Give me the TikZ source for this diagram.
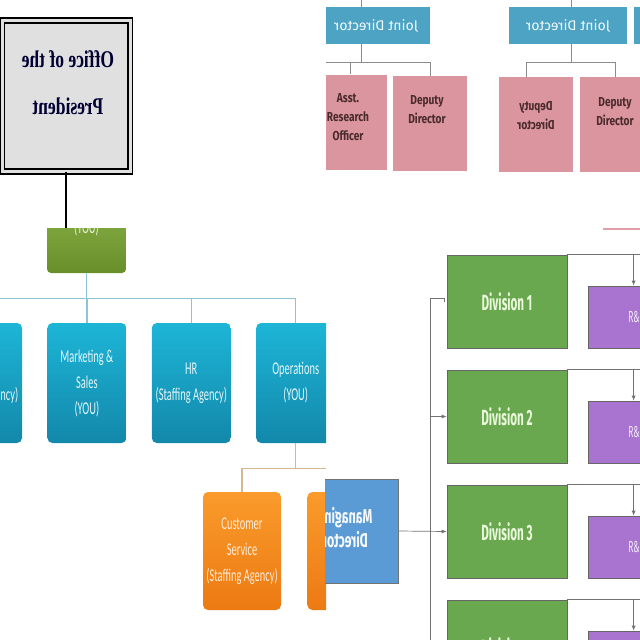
\documentclass[tikz,border=0pt]{standalone}
\usepackage{fontspec}
\usetikzlibrary{arrows.meta,positioning}

\newfontfamily\presfont[FakeStretch=0.73]{Liberation Serif}
\newfontfamily\jdfont{Fira Sans}
\newfontfamily\pinkfont[FakeStretch=0.78]{Fira Sans}
\newfontfamily\condfont[FakeStretch=0.58]{Carlito}
\newfontfamily\divfont[FakeStretch=0.53]{Fira Sans}
\newfontfamily\mdfont[FakeStretch=0.62]{Fira Sans}

\definecolor{jdblue}{HTML}{4DA3C4}
\definecolor{pinkfill}{HTML}{DA959E}
\definecolor{pinktxt}{HTML}{4A2A2C}
\definecolor{yougreen}{HTML}{7BA832}
\definecolor{tealtop}{HTML}{1DB5D7}
\definecolor{tealbot}{HTML}{1388AA}
\definecolor{orgtop}{HTML}{FA9B2C}
\definecolor{orgbot}{HTML}{EC7A12}
\definecolor{tealline}{HTML}{8EC3D3}
\definecolor{tanline}{HTML}{D6B88E}
\definecolor{mdblue}{HTML}{5B9BD5}
\definecolor{divgreen}{HTML}{6AA84F}
\definecolor{divtext}{HTML}{EAF8DC}
\definecolor{rdpurple}{HTML}{A874D0}
\definecolor{pinkline}{HTML}{E29FA9}

\newcommand{\mirrortext}[1]{\scalebox{-1}[1]{#1}}

\tikzset{
  presbox/.style={draw=black,line width=1.8pt,double=black!12,double distance=3pt,
    fill=black!12,minimum width=128pt,minimum height=151pt,inner sep=0pt},
  prestext/.style={font=\presfont\bfseries\fontsize{24}{47}\selectfont,text=black!80!blue},
  youbox/.style={rounded corners=4pt,top color=yougreen!90!white,bottom color=yougreen!85!black,
    minimum width=79pt,minimum height=74pt,inner sep=0pt},
  deptbox/.style={rounded corners=5pt,top color=tealtop,bottom color=tealbot,
    minimum width=79pt,minimum height=120pt,inner sep=0pt,align=center,
    text=white!88!tealtop,font=\condfont\fontsize{18}{26}\selectfont},
  ordbox/.style={deptbox,top color=orgtop,bottom color=orgbot,minimum width=78pt,
    minimum height=118pt,text=orange!15!white},
  jdbox/.style={fill=jdblue,minimum height=37pt,inner sep=0pt,text=white!92!jdblue,
    font=\jdfont\fontsize{14}{16}\selectfont},
  pinkbox/.style={fill=pinkfill,minimum width=74pt,minimum height=95pt,inner sep=0pt},
  pinktext/.style={align=center,text=pinktxt,inner sep=0pt,
    font=\pinkfont\bfseries\fontsize{13}{19}\selectfont},
  mdbox/.style={fill=mdblue,draw=black!55,line width=0.6pt,minimum width=106pt,
    minimum height=104pt,inner sep=0pt,align=center,text=white!94!mdblue,
    font=\mdfont\bfseries\fontsize{20}{24}\selectfont},
  divbox/.style={fill=divgreen,draw=black!60,line width=0.6pt,minimum width=120pt,
    minimum height=93pt,inner sep=0pt,text=divtext,
    font=\divfont\bfseries\fontsize{22}{24}\selectfont},
  rdbox/.style={fill=rdpurple,draw=black!60,line width=0.6pt,minimum width=96pt,
    minimum height=62pt,inner sep=0pt,text=white!85!rdpurple,
    font=\divfont\fontsize{16}{18}\selectfont},
  greyline/.style={draw=black!45,line width=0.8pt},
  thinline/.style={draw=black!55,line width=0.7pt},
  arrowline/.style={thinline,-{Latex[length=5pt,width=4pt]}}
}

\begin{document}
\begin{tikzpicture}[x=1pt,y=-1pt]
\useasboundingbox (0,0) rectangle (640,640);

% office of the president (top left)
\begin{scope}
  \clip (0,0) rectangle (326,228);
  \node[presbox] (pres) at (66,96) {};
  \node[prestext] (prestxt) at (68,82) {\mirrortext{\begin{tabular}{@{}c@{}}Office of the\\President\end{tabular}}};
  \coordinate (presend) at (66,228);
  \draw[line width=1.2pt] (pres.south) -- (presend);
\end{scope}

% departments (bottom left)
\begin{scope}
  \clip (0,228) rectangle (326,640);
  \node[youbox] (you) at (86.5,236) {};
  \node[text=white!85!yougreen,font=\condfont\fontsize{18}{20}\selectfont] (youlbl) at (86.5,228) {(YOU)};
  \node[deptbox] (sup) at (-17.5,383) {Support\\(Staffing Agency)};
  \node[deptbox,right=25pt of sup] (mkt) {Marketing \&\\Sales\\(YOU)};
  \node[deptbox,right=25pt of mkt] (hr) {HR\\(Staffing Agency)};
  \node[deptbox,right=25pt of hr] (ops) {Operations\\(YOU)};
  \draw[tealline,line width=1.2pt] (you.south) -- ++(0,25) coordinate (bus);
  \draw[tealline,line width=1.2pt] (sup.north |- bus) -- (ops.north |- bus);
  \foreach \d in {mkt,hr,ops}
    \draw[tealline,line width=1.2pt] (\d.north) -- (\d.north |- bus);
  \node[ordbox] (cs) at (242,551) {Customer\\Service\\(Staffing Agency)};
  \node[ordbox,right=26pt of cs] (ord) {};
  \draw[tanline,line width=1.2pt] (ops.south) -- ++(0,25) coordinate (obus);
  \draw[tanline,line width=1.2pt] (cs.north) |- (ord.north |- obus) -- (ord.north);
\end{scope}

% joint directors (top right)
\begin{scope}
  \clip (326,0) rectangle (640,228);
  \node[jdbox,minimum width=108pt] (jd1) at (376,25.5) {\mirrortext{Joint Director}};
  \node[jdbox,minimum width=118pt] (jd2) at (568,25.5) {\mirrortext{Joint Director}};
  \node[jdbox,minimum width=112pt] (jd3) at (690,25.5) {};
  \draw[greyline] ([xshift=-15pt]jd1.north) -- ++(0,-8);
  \draw[greyline] ([xshift=3pt]jd2.north) -- ++(0,-8);
  \node[pinkbox] (aro) at (350,122) {};
  \node[pinkbox] (dd1) at (430,123.5) {};
  \node[pinkbox] (dd2) at (536,124.5) {};
  \node[pinkbox] (dd3) at (617,124.5) {};
  \node[pinktext,anchor=north] (arotxt) at ([yshift=-19pt,xshift=-2pt]aro.north) {Asst.\\Research\\Officer};
  \node[pinktext,anchor=north] (dd1txt) at ([yshift=-19pt,xshift=-3pt]dd1.north) {Deputy\\Director};
  \node[pinktext,anchor=north] (dd2txt) at ([yshift=-20pt]dd2.north) {\mirrortext{\begin{tabular}{@{}c@{}}Deputy\\Director\end{tabular}}};
  \node[pinktext,anchor=north] (dd3txt) at ([yshift=-20pt,xshift=-2pt]dd3.north) {Deputy\\Director};
  \draw[greyline] ([xshift=-15pt]jd1.south) -- ++(0,18) coordinate (b1);
  \draw[greyline] (aro.north) |- (dd1.north |- b1) -- (dd1.north);
  \draw[greyline] (aro.north |- b1) -- ++(-30,0);
  \draw[greyline] ([xshift=3pt]jd2.south) -- ++(0,18) coordinate (b2);
  \draw[greyline] ([xshift=-10pt]dd2.north) |- ([xshift=-2pt]dd3.north |- b2) -- ([xshift=-2pt]dd3.north);
\end{scope}

% divisions (bottom right)
\begin{scope}
  \clip (325,228) rectangle (640,640);
  \draw[pinkline,line width=1.5pt] (603,229) -- (640,229);
  \node[mdbox] (md) at (345,531) {\mirrortext{\begin{tabular}{@{}c@{}}Managing\\Director\end{tabular}}};
  \foreach \i/\y in {1/301.5,2/416.5,3/531.5,4/646.5} {
    \node[divbox] (div\i) at (507,\y) {Division \i};
    \node[rdbox,anchor=south west] (rd\i) at ([xshift=21pt]div\i.south east) {R\&D};
    \draw[thinline] (div\i.north east) -- ++(80,0);
    \draw[arrowline] ([xshift=-3pt]rd\i.north |- div\i.north) -- ([xshift=-3pt]rd\i.north);
  }
  \coordinate (trunk) at (430,298);
  \coordinate (trunkend) at (430,640);
  \draw[thinline] (trunk) -- (trunkend);
  \draw[thinline] (trunk) -- ++(14,0) -- ++(0,4);
  \draw[arrowline] (trunk |- div2.west) -- (div2.west);
  \draw[arrowline] (md.east) -- (div3.west);
\end{scope}
\end{tikzpicture}
\end{document}
